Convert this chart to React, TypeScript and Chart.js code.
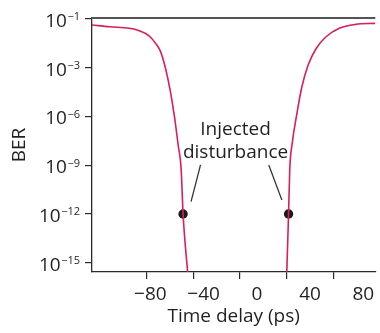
import React, { useEffect, useRef } from "react";
import { Chart, registerables } from "chart.js";

Chart.register(...registerables);

// ---------- data ----------
const X_TICKS = [-80, -40, 0, 40, 80];
const Y_TICK_EXPONENTS = [-1, -3, -6, -9, -12, -15];

// left BER curve: time delay (ps) and log10(BER)
const LEFT_DELAY = [-126.3, -111.2, -94.4, -86.0, -77.6, -72.0, -67.8, -63.6, -59.4, -55.8, -53.0, -50.2, -48.6, -44.5];
const LEFT_LOG_BER = [-1.25, -1.32, -1.38, -1.48, -1.69, -2.0, -2.34, -3.03, -4.47, -6.09, -7.65, -9.29, -12, -15.75];

// right BER curve
const RIGHT_DELAY = [39.8, 41.4, 42.4, 44.5, 48.3, 52.5, 58.1, 65.1, 73.4, 84.6, 98.6, 115.4];
const RIGHT_LOG_BER = [-15.75, -12, -9.29, -7.65, -5.91, -4.26, -2.89, -2.2, -1.73, -1.38, -1.22, -1.18];

// injected disturbance markers
const MARK_DELAY = [-48.6, 41.4];
const MARK_LOG_BER = [-12, -12];

// leader lines of the annotation
const LEADER_LEFT_DELAY = [-33.7, -41.8];
const LEADER_LEFT_LOG_BER = [-8.98, -11.24];
const LEADER_RIGHT_DELAY = [24.5, 35.7];
const LEADER_RIGHT_LOG_BER = [-8.98, -11.14];

const ANNOTATION_LINES = ["Injected", "disturbance"];
const ANNOTATION_DELAY = -3.8;
const ANNOTATION_LOG_BER = -7.14;

const X_TITLE = "Time delay (ps)";
const Y_TITLE = "BER";

// axis ranges
const X_MIN = -126.3;
const X_MAX = 115.4;
const LABEL_MIN = -123.9;
const LABEL_MAX = 89.0;
const Y_POS_MIN = -0.02;
const Y_POS_MAX = 5.19;

// ---------- styles ----------
const FONT = "'Open Sans', sans-serif";
const TEXT = "#231f20";
const AXIS = "#2a2a2a";
const CURVE = "#d81e5b";
const FS = 19;

// map log10(BER) onto the (non-uniform) BER axis positions
function expToPos(e: number): number {
  const t = Y_TICK_EXPONENTS;
  for (let i = 0; i < t.length - 1; i++) {
    if (e >= t[i + 1] || i === t.length - 2) {
      return i + (t[i] - e) / (t[i] - t[i + 1]);
    }
  }
  return 0;
}

const pts = (xs: number[], es: number[]) => xs.map((x, i) => ({ x, y: expToPos(es[i]) }));
const minus = (v: number) => (v < 0 ? "\u2212" + Math.abs(v) : String(v));
const supDigits = (s: string) => s;

const overlay = {
  id: "overlay",
  afterDraw(chart: any) {
    const { ctx, chartArea, scales } = chart;
    const { left, right, top } = chartArea;
    const x = scales.x;
    const y = scales.y;
    ctx.save();
    // top frame line
    ctx.strokeStyle = "#555";
    ctx.lineWidth = 2;
    ctx.beginPath();
    ctx.moveTo(left - 1, top);
    ctx.lineTo(right, top);
    ctx.stroke();

    // y tick labels: 10^exp
    ctx.fillStyle = TEXT;
    const labelRight = 80;
    Y_TICK_EXPONENTS.forEach((e, i) => {
      const py = y.getPixelForValue(i);
      const expText = supDigits(minus(e));
      ctx.font = `11px ${FONT}`;
      const ew = ctx.measureText(expText).width;
      ctx.textAlign = "left";
      ctx.textBaseline = "alphabetic";
      ctx.fillText(expText, labelRight - ew, py + 1.5);
      ctx.font = `${FS}px ${FONT}`;
      ctx.textAlign = "right";
      ctx.fillText("10", labelRight - ew - 0.5, py + 7.8);
    });

    // annotation text
    ctx.font = `${FS}px ${FONT}`;
    ctx.textAlign = "center";
    ctx.textBaseline = "alphabetic";
    const ax = x.getPixelForValue(ANNOTATION_DELAY);
    const ay = y.getPixelForValue(expToPos(ANNOTATION_LOG_BER));
    ANNOTATION_LINES.forEach((line, i) => ctx.fillText(line, ax, ay + i * 22.7));
    ctx.restore();
  },
};

export default function App() {
  const ref = useRef<HTMLCanvasElement | null>(null);
  useEffect(() => {
    document.body.style.margin = "0";
    const canvas = ref.current;
    if (!canvas) return;
    const lineDs = (data: any[], color: string, width: number) => ({
      data,
      showLine: true,
      borderColor: color,
      backgroundColor: color,
      borderWidth: width,
      pointRadius: 0,
      cubicInterpolationMode: "monotone" as const,
    });
    const chart = new Chart(canvas, {
      type: "scatter",
      data: {
        datasets: [
          lineDs(pts(LEFT_DELAY, LEFT_LOG_BER), CURVE, 1.6),
          lineDs(pts(RIGHT_DELAY, RIGHT_LOG_BER), CURVE, 1.6),
          lineDs(pts(LEADER_LEFT_DELAY, LEADER_LEFT_LOG_BER), "#333", 1.3),
          lineDs(pts(LEADER_RIGHT_DELAY, LEADER_RIGHT_LOG_BER), "#333", 1.3),
          {
            data: pts(MARK_DELAY, MARK_LOG_BER),
            showLine: false,
            pointRadius: 4.7,
            pointBackgroundColor: "#1a1a1a",
            pointBorderWidth: 0,
          } as any,
        ],
      },
      options: {
        animation: false,
        responsive: false,
        devicePixelRatio: 1,
        layout: { padding: { top: 18, right: 0, left: 0, bottom: 0 } },
        plugins: { legend: { display: false }, tooltip: { enabled: false } },
        scales: {
          x: {
            type: "linear",
            position: "bottom",
            weight: 0,
            min: X_MIN,
            max: X_MAX,
            afterBuildTicks: (s: any) => {
              s.ticks = X_TICKS.map((v) => ({ value: v }));
            },
            afterFit: (s: any) => {
              s.height = 7;
            },
            grid: { drawOnChartArea: false, drawTicks: true, tickLength: 7, color: AXIS, lineWidth: 1.2 },
            border: { display: true, color: AXIS, width: 1.3 },
            ticks: { display: false },
          },
          xl: {
            type: "linear",
            position: "bottom",
            weight: 1,
            min: LABEL_MIN,
            max: LABEL_MAX,
            afterBuildTicks: (s: any) => {
              s.ticks = X_TICKS.map((v) => ({ value: v }));
            },
            afterFit: (s: any) => {
              s.height = 54;
            },
            grid: { display: false, drawTicks: false },
            border: { display: false },
            ticks: {
              padding: 4,
              color: TEXT,
              font: { family: FONT, size: FS },
              maxRotation: 0,
              autoSkip: false,
              callback: (v: any) => minus(Number(v)),
            },
            title: {
              display: true,
              text: X_TITLE,
              color: TEXT,
              font: { family: FONT, size: FS },
              padding: { top: 0, bottom: 5 },
            },
          },
          y: {
            type: "linear",
            position: "left",
            reverse: true,
            min: Y_POS_MIN,
            max: Y_POS_MAX,
            afterBuildTicks: (s: any) => {
              s.ticks = Y_TICK_EXPONENTS.map((_, i) => ({ value: i }));
            },
            afterFit: (s: any) => {
              s.width = 92;
            },
            grid: { drawOnChartArea: false, drawTicks: true, tickLength: 7, color: AXIS, lineWidth: 1.2 },
            border: { display: true, color: AXIS, width: 1.3 },
            ticks: { display: false },
            title: {
              display: true,
              text: Y_TITLE,
              color: TEXT,
              font: { family: FONT, size: FS },
              padding: { top: 8.6, bottom: 0 },
            },
          },
        },
      } as any,
      plugins: [overlay],
    });
    return () => chart.destroy();
  }, []);
  return <canvas ref={ref} width={380} height={333} style={{ display: "block" }} />;
}
